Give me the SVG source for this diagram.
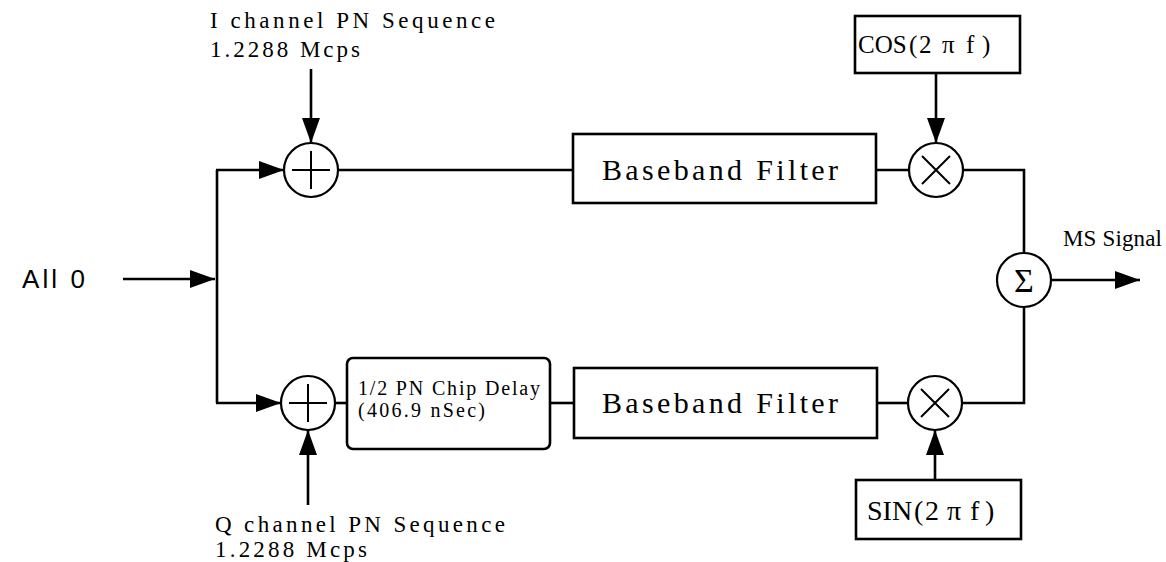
<svg xmlns="http://www.w3.org/2000/svg" width="1166" height="562" viewBox="0 0 1166 562">
<defs>
<marker id="ah" markerUnits="userSpaceOnUse" markerWidth="25" markerHeight="18" refX="25" refY="9" orient="auto">
<path d="M0,0 L25,9 L0,18 Z" fill="#000"/>
</marker>
<style>
.ln{fill:none;stroke:#000;stroke-width:2.6}
.bx{fill:#fff;stroke:#000;stroke-width:2.6}
.cr{fill:#fff;stroke:#000;stroke-width:2.2}
.sym{fill:none;stroke:#000;stroke-width:2}
.mc{font-family:"Liberation Serif",serif;fill:#000}
.ser{font-family:"Liberation Serif",serif;fill:#000}
.sans{font-family:"Liberation Sans",sans-serif;fill:#000}
</style>
</defs>
<rect width="1166" height="562" fill="#fff"/>

<g id="connectors">
<line class="ln" x1="123" y1="279" x2="215" y2="279" marker-end="url(#ah)"/>
<polyline class="ln" points="217,170 217,403"/>
<line class="ln" x1="216" y1="170" x2="284" y2="170" marker-end="url(#ah)"/>
<line class="ln" x1="216" y1="403" x2="281" y2="403" marker-end="url(#ah)"/>
<line class="ln" x1="311" y1="69" x2="311" y2="143" marker-end="url(#ah)"/>
<line class="ln" x1="308" y1="505" x2="308" y2="430" marker-end="url(#ah)"/>
<line class="ln" x1="338" y1="170" x2="573" y2="170"/>
<line class="ln" x1="335" y1="403" x2="347" y2="403"/>
<line class="ln" x1="550" y1="403" x2="574" y2="403"/>
<line class="ln" x1="876" y1="170" x2="909" y2="170"/>
<line class="ln" x1="877" y1="403" x2="908" y2="403"/>
<line class="ln" x1="936" y1="73" x2="936" y2="143" marker-end="url(#ah)"/>
<line class="ln" x1="935" y1="480" x2="935" y2="430" marker-end="url(#ah)"/>
<polyline class="ln" points="963,170 1024,170 1024,253"/>
<polyline class="ln" points="962,403 1024,403 1024,307"/>
<line class="ln" x1="1051" y1="280" x2="1140" y2="280" marker-end="url(#ah)"/>
</g>

<g id="label-input">
<text class="sans" x="22" y="288" font-size="26" textLength="63">All 0</text>
</g>

<g id="label-i-pn">
<text class="mc" x="210" y="28" font-size="23" textLength="285">I channel PN Sequence</text>
<text class="mc" x="210" y="57" font-size="23" textLength="150">1.2288 Mcps</text>
</g>

<g id="label-q-pn">
<text class="mc" x="215" y="532" font-size="23" textLength="290">Q channel PN Sequence</text>
<text class="mc" x="215" y="557" font-size="23" textLength="152">1.2288 Mcps</text>
</g>

<g id="adder-i">
<circle class="cr" cx="311" cy="170" r="27"/>
<path class="sym" d="M292,170 H330 M311,151 V189"/>
</g>

<g id="adder-q">
<circle class="cr" cx="308" cy="403" r="27"/>
<path class="sym" d="M289,403 H327 M308,384 V422"/>
</g>

<g id="delay">
<rect class="bx" x="347" y="358" width="203" height="91" rx="6"/>
<text class="mc" x="358" y="395" font-size="20" textLength="182">1/2 PN Chip Delay</text>
<text class="mc" x="358" y="417" font-size="20" textLength="127">(406.9 nSec)</text>
</g>

<g id="filter-i">
<rect class="bx" x="573" y="134" width="303" height="69"/>
<text class="mc" x="602" y="180" font-size="30" textLength="236">Baseband Filter</text>
</g>

<g id="filter-q">
<rect class="bx" x="574" y="368" width="303" height="70"/>
<text class="mc" x="602" y="413" font-size="30" textLength="236">Baseband Filter</text>
</g>

<g id="cos">
<rect class="bx" x="855" y="16" width="165" height="57"/>
<text class="ser" y="53" font-size="25"><tspan x="858">COS</tspan><tspan x="909">(</tspan><tspan x="919">2</tspan><tspan x="942">π</tspan><tspan x="966">f</tspan><tspan x="982">)</tspan></text>
</g>

<g id="sin">
<rect class="bx" x="856" y="480" width="165" height="59"/>
<text class="ser" y="520" font-size="28"><tspan x="867">SIN</tspan><tspan x="914">(</tspan><tspan x="925">2</tspan><tspan x="947">π</tspan><tspan x="970">f</tspan><tspan x="985">)</tspan></text>
</g>

<g id="mult-i">
<circle class="cr" cx="936" cy="170" r="27"/>
<path class="sym" d="M922,156 L950,184 M950,156 L922,184"/>
</g>

<g id="mult-q">
<circle class="cr" cx="935" cy="403" r="27"/>
<path class="sym" d="M921,389 L949,417 M949,389 L921,417"/>
</g>

<g id="sum">
<circle class="cr" cx="1024" cy="280" r="27"/>
<text class="ser" x="1024" y="292" font-size="34" text-anchor="middle">Σ</text>
</g>

<g id="label-out">
<text class="ser" x="1063" y="246" font-size="23" textLength="99">MS Signal</text>
</g>
</svg>
